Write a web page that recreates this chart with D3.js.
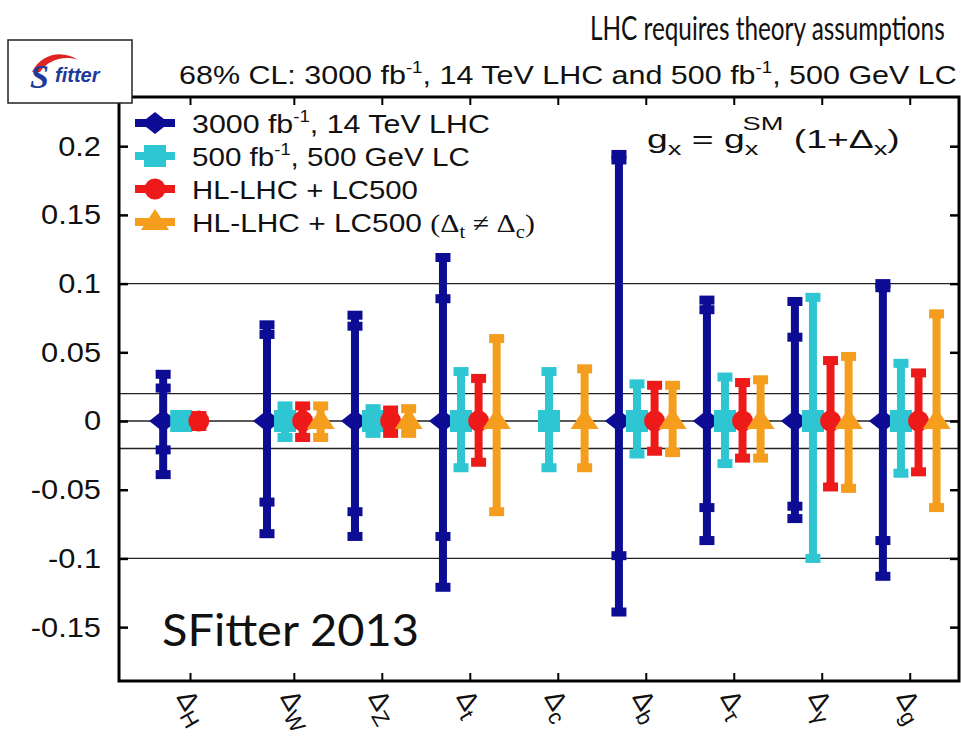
<!DOCTYPE html>
<html>
<head>
<meta charset="utf-8">
<script src="https://cdn.jsdelivr.net/npm/d3@7"></script>
<style>
  body { margin: 0; background: #fff; }
  svg { display: block; }
</style>
</head>
<body>
<script>
// categories (subscript of Delta) and the four fits, central value is 0 everywhere
var categories = ["H", "W", "Z", "t", "c", "b", "τ", "γ", "g"];

// 3000 fb-1, 14 TeV LHC: outer and inner error bars
var lhcUp        = [0.034, 0.070, 0.077, 0.119, null, 0.194, 0.088, 0.087, 0.100];
var lhcDown      = [-0.039, -0.082, -0.084, -0.121, null, -0.139, -0.087, -0.071, -0.113];
var lhcUpInner   = [0.024, 0.063, 0.069, 0.089, null, 0.190, 0.081, 0.061, 0.097];
var lhcDownInner = [-0.021, -0.059, -0.066, -0.084, null, -0.098, -0.063, -0.062, -0.087];

// 500 fb-1, 500 GeV LC
var lcUp   = [0.004, 0.011, 0.009, 0.036, 0.036, 0.027, 0.032, 0.090, 0.042];
var lcDown = [-0.004, -0.012, -0.009, -0.034, -0.034, -0.024, -0.031, -0.100, -0.038];

// HL-LHC + LC500
var combUp   = [0.004, 0.011, 0.008, 0.031, null, 0.026, 0.028, 0.044, 0.035];
var combDown = [-0.004, -0.012, -0.009, -0.030, null, -0.022, -0.027, -0.048, -0.037];

// HL-LHC + LC500 (Delta_t != Delta_c)
var combTcUp   = [null, 0.011, 0.009, 0.060, 0.038, 0.026, 0.030, 0.047, 0.078];
var combTcDown = [null, -0.012, -0.009, -0.066, -0.034, -0.023, -0.027, -0.049, -0.063];

var yTicks = [-0.15, -0.1, -0.05, 0, 0.05, 0.1, 0.15, 0.2];
var gridValues = [-0.1, -0.02, 0, 0.02, 0.1];

// layout
var W = 961, H = 744;
var plot = { left: 119, right: 959, top: 97, bottom: 681 };
var firstGap = 0.18;   // the Delta_H column sits a bit apart from the rest
var barW = 8, capW = 15, capH = 9;

var colors = { lhc: "#0c0c94", lc: "#2ec6d2", comb: "#ee1a1a", tc: "#f59e1e" };

var series = [
  { key: "lhc", color: colors.lhc, shape: "diamond", off: -0.305, up: lhcUp, down: lhcDown, upIn: lhcUpInner, downIn: lhcDownInner },
  { key: "lc", color: colors.lc, shape: "square", off: -0.1, up: lcUp, down: lcDown },
  { key: "comb", color: colors.comb, shape: "circle", off: 0.1, up: combUp, down: combDown },
  { key: "tc", color: colors.tc, shape: "triangle", off: 0.305, up: combTcUp, down: combTcDown }
];

var svg = d3.select("body").append("svg")
  .attr("width", W)
  .attr("height", H)
  .style("font-family", "'Liberation Sans', Arial, sans-serif");

function catPos(i) { return i === 0 ? 0 : i + firstGap; }

var x = d3.scaleLinear()
  .domain([-0.807, 8.74])
  .range([plot.left, plot.right]);

var y = d3.scaleLinear()
  .domain([-0.1892, 0.2358])
  .range([plot.bottom, plot.top]);

// stretch a group holding text horizontally to the width seen in the picture
function stretch(g, target) {
  var w = g.node().getBBox().width;
  g.attr("transform", g.attr("transform") + " scale(" + (target / w) + ",1)");
}

// horizontal reference lines
svg.append("g").selectAll("line")
  .data(gridValues)
  .enter().append("line")
  .attr("x1", plot.left).attr("x2", plot.right)
  .attr("y1", function(d) { return y(d); })
  .attr("y2", function(d) { return y(d); })
  .attr("stroke", "#222")
  .attr("stroke-width", 1.3);

// markers
function drawMarker(g, shape, cx, cy, color) {
  if (shape === "diamond") {
    g.append("path")
      .attr("d", "M" + (cx - 14) + "," + cy + "L" + cx + "," + (cy - 11) + "L" + (cx + 14) + "," + cy + "L" + cx + "," + (cy + 11) + "Z")
      .attr("fill", color);
  } else if (shape === "square") {
    g.append("rect")
      .attr("x", cx - 11).attr("y", cy - 11)
      .attr("width", 22).attr("height", 22)
      .attr("fill", color);
  } else if (shape === "circle") {
    g.append("circle")
      .attr("cx", cx).attr("cy", cy).attr("r", 10.5)
      .attr("fill", color);
  } else {
    g.append("path")
      .attr("d", "M" + (cx - 14) + "," + (cy + 8) + "L" + cx + "," + (cy - 13) + "L" + (cx + 14) + "," + (cy + 8) + "Z")
      .attr("fill", color);
  }
}

function cap(g, cx, v, color) {
  g.append("rect")
    .attr("x", cx - capW / 2)
    .attr("y", y(v) - capH / 2)
    .attr("width", capW)
    .attr("height", capH)
    .attr("fill", color);
}

// error bars, one series after the other
series.forEach(function(s) {
  var g = svg.append("g").attr("class", "series-" + s.key);
  categories.forEach(function(c, i) {
    if (s.up[i] === null) return;
    var cx = x(catPos(i) + s.off);
    g.append("rect")
      .attr("x", cx - barW / 2)
      .attr("y", y(s.up[i]))
      .attr("width", barW)
      .attr("height", y(s.down[i]) - y(s.up[i]))
      .attr("fill", s.color);
    cap(g, cx, s.up[i], s.color);
    cap(g, cx, s.down[i], s.color);
    if (s.upIn) {
      cap(g, cx, s.upIn[i], s.color);
      cap(g, cx, s.downIn[i], s.color);
    }
    drawMarker(g, s.shape, cx, y(0), s.color);
  });
});

// axes: ticks pointing inwards on all four sides
var tickPos = categories.map(function(c, i) { return catPos(i); });

svg.append("g")
  .attr("transform", "translate(" + plot.left + ",0)")
  .call(d3.axisLeft(y).tickValues(yTicks).tickSizeInner(-9).tickSizeOuter(0).tickPadding(18)
    .tickFormat(function(d) { return String(d); }))
  .call(function(g) {
    g.select(".domain").remove();
    g.selectAll("line").attr("stroke", "#000").attr("stroke-width", 2.5);
    g.selectAll("text")
      .attr("font-size", 28)
      .attr("fill", "#111")
      .each(function() {
        var w = this.getComputedTextLength();
        d3.select(this).attr("textLength", w * 1.1).attr("lengthAdjust", "spacingAndGlyphs");
      });
  });

svg.append("g")
  .attr("transform", "translate(" + plot.right + ",0)")
  .call(d3.axisRight(y).tickValues(yTicks).tickSizeInner(-9).tickSizeOuter(0).tickFormat(""))
  .call(function(g) {
    g.select(".domain").remove();
    g.selectAll("line").attr("stroke", "#000").attr("stroke-width", 2.5);
  });

svg.append("g")
  .attr("transform", "translate(0," + plot.bottom + ")")
  .call(d3.axisBottom(x).tickValues(tickPos).tickSizeInner(-8).tickSizeOuter(0).tickFormat(""))
  .call(function(g) {
    g.select(".domain").remove();
    g.selectAll("line").attr("stroke", "#000").attr("stroke-width", 2);
  });

svg.append("g")
  .attr("transform", "translate(0," + plot.top + ")")
  .call(d3.axisTop(x).tickValues(tickPos).tickSizeInner(-8).tickSizeOuter(0).tickFormat(""))
  .call(function(g) {
    g.select(".domain").remove();
    g.selectAll("line").attr("stroke", "#000").attr("stroke-width", 2);
  });

// frame
svg.append("rect")
  .attr("x", plot.left).attr("y", plot.top)
  .attr("width", plot.right - plot.left).attr("height", plot.bottom - plot.top)
  .attr("fill", "none")
  .attr("stroke", "#000")
  .attr("stroke-width", 3);

// rotated category labels under the axis
categories.forEach(function(c, i) {
  var t = svg.append("text")
    .attr("transform", "translate(" + (x(catPos(i)) - 14) + ",697) rotate(60)")
    .attr("font-size", 27)
    .attr("fill", "#111")
    .text("Δ");
  t.append("tspan")
    .attr("font-size", 22)
    .attr("dy", 7)
    .text(c);
});

// legend
var legendRows = [
  { s: series[0], parts: [["3000 fb", 0], ["-1", -1], [", 14 TeV LHC", 0]], w: 298 },
  { s: series[1], parts: [["500 fb", 0], ["-1", -1], [", 500 GeV LC", 0]], w: 278 },
  { s: series[2], parts: [["HL-LHC + LC500", 0]], w: 226 },
  { s: series[3], parts: [["HL-LHC + LC500 ", 0]], w: 343, tc: true }
];
var legendY = [123, 156, 189, 222];

legendRows.forEach(function(r, k) {
  var cy = legendY[k];
  var lg = svg.append("g");
  lg.append("rect")
    .attr("x", 135).attr("y", cy - 4)
    .attr("width", 40).attr("height", 8)
    .attr("fill", r.s.color);
  drawMarker(lg, r.s.shape, 155, cy, r.s.color);

  var tg = svg.append("g").attr("transform", "translate(192," + (cy + 10) + ")");
  var t = tg.append("text").attr("font-size", 26).attr("fill", "#111");
  var shift = 0;
  r.parts.forEach(function(p) {
    var dy = 0;
    if (p[1] === -1) { dy = -11; }
    else if (shift !== 0) { dy = -shift; }
    t.append("tspan")
      .attr("dy", dy)
      .attr("font-size", p[1] === -1 ? 16 : 26)
      .text(p[0]);
    shift += dy;
  });
  if (r.tc) {
    var serif = "'Liberation Serif', 'Times New Roman', serif";
    t.append("tspan").attr("font-family", serif).text("(Δ");
    t.append("tspan").attr("font-family", serif).attr("font-size", 18).attr("dy", 6).text("t");
    t.append("tspan").attr("font-family", serif).attr("dy", -6).text(" ≠ Δ");
    t.append("tspan").attr("font-family", serif).attr("font-size", 18).attr("dy", 6).text("c");
    t.append("tspan").attr("font-family", serif).attr("dy", -6).text(")");
  }
  stretch(tg, r.w);
});

// formula in the upper right
var fg = svg.append("g").attr("transform", "translate(647,148)");
var ft = fg.append("text").attr("font-size", 26).attr("fill", "#111");
ft.append("tspan").text("g");
ft.append("tspan").attr("font-size", 19).attr("dy", 7).text("x");
ft.append("tspan").attr("dy", -7).text(" = g");
ft.append("tspan").attr("font-size", 19).attr("dy", 7).text("x");
ft.append("tspan").attr("font-size", 19).attr("dx", -11).attr("dy", -25).text("SM");
ft.append("tspan").attr("dy", 18).text(" (1+Δ");
ft.append("tspan").attr("font-size", 19).attr("dy", 7).text("x");
ft.append("tspan").attr("dy", -7).text(")");
stretch(fg, 253);

// plot title
var hg = svg.append("g").attr("transform", "translate(179,84)");
var ht = hg.append("text").attr("font-size", 26).attr("fill", "#111");
ht.append("tspan").text("68% CL: 3000 fb");
ht.append("tspan").attr("font-size", 16).attr("dy", -11).text("-1");
ht.append("tspan").attr("dy", 11).text(", 14 TeV LHC and 500 fb");
ht.append("tspan").attr("font-size", 16).attr("dy", -11).text("-1");
ht.append("tspan").attr("dy", 11).text(", 500 GeV LC");
stretch(hg, 778);

// slide annotations
var ag = svg.append("g").attr("transform", "translate(590,40)");
ag.append("text")
  .attr("font-family", "Lato, 'Open Sans', sans-serif")
  .attr("font-size", 32)
  .attr("fill", "#111")
  .text("LHC requires theory assumptions");
stretch(ag, 355);

var sg = svg.append("g").attr("transform", "translate(162,646)");
sg.append("text")
  .attr("font-family", "Lato, 'Open Sans', sans-serif")
  .attr("font-size", 45)
  .attr("fill", "#111")
  .text("SFitter 2013");
stretch(sg, 257);

// SFitter logo box
var logo = svg.append("g");
logo.append("rect")
  .attr("x", 8).attr("y", 40)
  .attr("width", 124).attr("height", 63)
  .attr("fill", "#fff")
  .attr("stroke", "#222")
  .attr("stroke-width", 1.5);
logo.append("path")
  .attr("d", "M32,72 C42,52 64,50 78,60 C64,55 48,60 40,72 Z")
  .attr("fill", "#e02424");
logo.append("text")
  .attr("x", 30).attr("y", 88)
  .attr("font-family", "'Liberation Serif', serif")
  .attr("font-style", "italic")
  .attr("font-weight", "bold")
  .attr("font-size", 34)
  .attr("fill", "#1d3a9c")
  .text("S");
logo.append("text")
  .attr("x", 55).attr("y", 82)
  .attr("font-family", "'Liberation Sans', sans-serif")
  .attr("font-style", "italic")
  .attr("font-weight", "bold")
  .attr("font-size", 20)
  .attr("fill", "#1d3a9c")
  .text("fitter");
</script>
</body>
</html>
